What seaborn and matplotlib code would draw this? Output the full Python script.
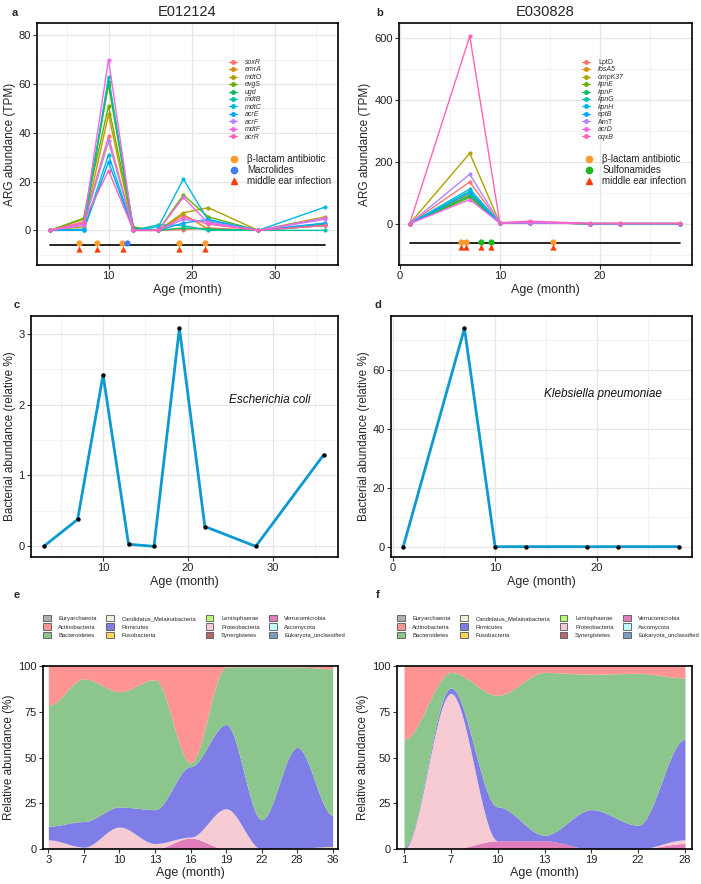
import numpy as np
import pandas as pd
import seaborn as sns
from matplotlib import pyplot as plt
from matplotlib.lines import Line2D
from matplotlib.patches import Patch

sns.set_theme(style="whitegrid")
plt.rcParams['font.family'] = ['Liberation Sans', 'DejaVu Sans']

# ---- panel a : ARG abundance, E012124 ----
ages_a = [3, 7, 10, 13, 16, 19, 22, 28, 36]
genes_a = ["soxR", "emrA", "mdtO", "evgS", "ugd", "mdtB", "mdtC", "acrE", "acrF", "mdtF", "acrR"]
soxR = [0, 3.0, 38.5, 0, 0, 0.3, 1.0, 0, 2.0]
emrA = [0, 1.5, 47.5, 0, 0, 6.5, 0.5, 0, 2.0]
mdtO = [0, 4.5, 59.5, 0.5, 0, 7.2, 9.3, 0, 5.5]
evgS = [0, 5.0, 51.0, 1.3, 0, 14.5, 5.5, 0, 2.0]
ugd = [0, 0.5, 61.0, 1.0, 0, 1.0, 0.5, 0, 2.5]
mdtB = [0, 0.3, 63.0, 0, 2.3, 2.0, 0, 0, 0]
mdtC = [0, 0, 31.0, 0, 1.5, 21.0, 4.0, 0, 9.5]
acrE = [0, 0, 28.0, 0, 0, 3.0, 4.5, 0, 3.0]
acrF = [0, 2.0, 36.5, 0, 0, 4.5, 3.5, 0, 4.5]
mdtF = [0, 2.5, 70.0, 0, 0, 13.5, 3.0, 0, 5.0]
acrR = [0, 3.5, 24.5, 0, 0, 5.5, 2.5, 0, 2.0]
series_a = [soxR, emrA, mdtO, evgS, ugd, mdtB, mdtC, acrE, acrF, mdtF, acrR]

beta_lactam_a = [6.4, 8.6, 11.6, 18.5, 21.6]
macrolide_a = [12.2]
ear_infection_a = [6.4, 8.6, 11.7, 18.5, 21.6]

# ---- panel b : ARG abundance, E030828 ----
ages_b = [1, 7, 10, 13, 19, 22, 28]
genes_b = ["LptD", "fosA5", "ompK37", "kpnE", "kpnF", "kpnG", "kpnH", "eptB", "ArnT", "acrD", "oqxB"]
LptD = [0, 135, 2, 3, 0, 0, 0]
fosA5 = [0, 95, 2, 3, 0, 0, 0]
ompK37 = [0, 228, 2, 3, 0, 0, 0]
kpnE = [0, 85, 2, 3, 0, 0, 0]
kpnF = [0, 90, 2, 3, 0, 0, 0]
kpnG = [0, 105, 2, 3, 0, 0, 0]
kpnH = [0, 112, 2, 3, 0, 0, 0]
eptB = [0, 100, 2, 3, 0, 0, 0]
ArnT = [0, 160, 2, 3, 0, 0, 0]
acrD = [0, 78, 2, 3, 0, 0, 0]
oqxB = [0, 607, 3, 8, 1, 1, 1]
series_b = [LptD, fosA5, ompK37, kpnE, kpnF, kpnG, kpnH, eptB, ArnT, acrD, oqxB]

beta_lactam_b = [6.1, 6.6, 15.3]
sulfonamide_b = [8.1, 9.1]
ear_infection_b = [6.1, 6.6, 8.1, 9.1, 15.3]

# ---- panels c, d : bacterial abundance ----
ecoli = [0, 0.38, 2.42, 0.03, 0, 3.08, 0.28, 0, 1.29]
kpneu = [0, 74, 0, 0, 0, 0, 0]

# ---- panels e, f : phylum composition (%) ----
phyla = ["Euryarchaeota", "Actinobacteria", "Bacteroidetes", "Candidatus_Melainabacteria",
         "Firmicutes", "Fusobacteria", "Lentisphaerae", "Proteobacteria", "Synergistetes",
         "Verrucomicrobia", "Ascomycota", "Eukaryota_unclassified"]
phyla_colors = ["#B3ADA8", "#FF9494", "#8DC68D", "#F3EFDC", "#7E7EE6", "#FFD45E",
                "#B6FF6E", "#F7CBD3", "#B56A6A", "#E07DBA", "#C0FFFF", "#7C9DC2"]

e_actino = [21.5, 7, 14, 7.5, 53, 0.5, 0.5, 0.5, 1.5]
e_bacter = [66, 78, 63, 71, 2, 31.5, 83.5, 44, 80]
e_firmic = [7.5, 14, 11, 18.5, 38.5, 46, 16, 55, 17.2]
e_fuso = [0, 0, 0, 0, 0, 0, 0, 0.5, 0.3]
e_proteo = [5, 1, 12, 3, 0.5, 22, 0, 0, 1]
e_verru = [0, 0, 0, 0, 6, 0, 0, 0, 0]

f_actino = [40, 3.5, 16, 3.5, 4.5, 4, 6.5]
f_bacter = [59, 8.5, 61, 89, 74, 83, 33.5]
f_firmic = [1, 3, 18.5, 3, 21.5, 13, 55]
f_proteo = [0, 85, 0, 0, 0, 0, 2]
f_verru = [0, 0, 4.5, 4.5, 0, 0, 3]

hue11 = ["#F8766D", "#DB8E00", "#AEA200", "#64B200", "#00BD5C", "#00C1A7",
         "#00BADE", "#00A6FF", "#B385FF", "#EF67EB", "#FF63B6"]
c_orange, c_blue, c_green, c_red = "#FF9A2E", "#3C7DF2", "#1DB81D", "#FF3A0A"
line_blue = "#0C9AD0"

W, H = 701, 884
fig = plt.figure(figsize=(W / 100, H / 100), dpi=100)


def box(l, r, t, b):
    return [l / W, 1 - b / H, (r - l) / W, (b - t) / H]


def style(ax, xminor=None, yminor=None):
    for s in ax.spines.values():
        s.set_color("black")
        s.set_linewidth(1.2)
    ax.tick_params(direction="out", length=3, width=0.8, color="#333333",
                   labelsize=8, labelcolor="#222222", pad=1.5, bottom=True, left=True)
    ax.grid(True, which="major", color="#E6E6E6", linewidth=0.9)
    if xminor is not None:
        ax.set_xticks(xminor, minor=True)
    if yminor is not None:
        ax.set_yticks(yminor, minor=True)
    ax.grid(True, which="minor", color="#F0F0F0", linewidth=0.6)
    ax.tick_params(which="minor", length=0)
    ax.set_axisbelow(True)


def arg_panel(ax, ages, genes, series, events, line_y, leg):
    df = pd.DataFrame({"age": np.tile(ages, len(genes)),
                       "tpm": np.concatenate(series),
                       "gene": np.repeat(genes, len(ages))})
    sns.lineplot(data=df, x="age", y="tpm", hue="gene", hue_order=genes,
                 palette=hue11, linewidth=1.0, marker="o", markersize=3,
                 markeredgewidth=0, legend=False, ax=ax)
    ax.plot([min(ages), max(ages)], [line_y] * 2, color="black", lw=1.2, zorder=3)
    for xs, col, mk, yy in events:
        ax.scatter(xs, [yy] * len(xs), color=col, marker=mk, s=20, zorder=4, linewidths=0)
    ax.set_xlabel("Age (month)", fontsize=9, labelpad=2)
    ax.set_ylabel("ARG abundance (TPM)", fontsize=8.5, labelpad=2)
    gh = [Line2D([], [], color=c, marker="o", markersize=2.5, lw=0.9) for c in hue11]
    leg1 = ax.legend(gh, genes, loc="upper left", frameon=False, fontsize=5,
                     handlelength=1.1, handletextpad=1.2, labelspacing=0.07,
                     borderpad=0, borderaxespad=0,
                     bbox_to_anchor=leg[0], bbox_transform=fig.transFigure)
    for t, g in zip(leg1.get_texts(), genes):
        t.set_fontstyle("normal" if g in ("LptD", "ArnT") else "italic")
        t.set_color("#333333")
    ax.add_artist(leg1)
    leg2 = ax.legend(leg[1], leg[2], loc="upper left", frameon=False,
                     fontsize=7, handlelength=1.0, handletextpad=0.9, labelspacing=0.12,
                     borderpad=0, borderaxespad=0,
                     bbox_to_anchor=leg[3], bbox_transform=fig.transFigure)
    for t in leg2.get_texts():
        t.set_color("#222222")


def dot(col, mk="o"):
    return Line2D([], [], color=col, marker=mk, markersize=4.5, lw=0)


# panel a
ax = fig.add_axes(box(37, 338, 23, 265))
style(ax, xminor=[5, 15, 25, 35], yminor=[-10, 10, 30, 50, 70])
arg_panel(ax, ages_a, genes_a, series_a,
          [(beta_lactam_a, c_orange, "o", -5.0), (macrolide_a, c_blue, "o", -5.0),
           (ear_infection_a, c_red, "^", -7.8)],
          -6.2,
          ((229 / W, 1 - 59 / H), [dot(c_orange), dot(c_blue), dot(c_red, "^")],
           ["β-lactam antibiotic", "Macrolides", "middle ear infection"],
           (229 / W, 1 - 154 / H)))
ax.set_xlim(1.4, 37.6)
ax.set_ylim(-14.2, 85)
ax.set_xticks([10, 20, 30])
ax.set_yticks([0, 20, 40, 60, 80])
ax.set_title("E012124", fontsize=10.5, pad=5)

# panel b
ax = fig.add_axes(box(399, 692, 23, 265))
style(ax, xminor=[5, 15, 25], yminor=[-100, 100, 300, 500])
arg_panel(ax, ages_b, genes_b, series_b,
          [(beta_lactam_b, c_orange, "o", -59), (sulfonamide_b, c_green, "o", -59),
           (ear_infection_b, c_red, "^", -77)],
          -64,
          ((582 / W, 1 - 59 / H), [dot(c_orange), dot(c_green), dot(c_red, "^")],
           ["β-lactam antibiotic", "Sulfonamides", "middle ear infection"],
           (584 / W, 1 - 154 / H)))
ax.set_xlim(-0.07, 29.2)
ax.set_ylim(-134, 650)
ax.set_xticks([0, 10, 20])
ax.set_yticks([0, 200, 400, 600])
ax.set_title("E030828", fontsize=10.5, pad=5)


def bact_panel(ax, ages, vals, name, tx, ty):
    df = pd.DataFrame({"age": ages, "abund": vals})
    sns.lineplot(data=df, x="age", y="abund", color=line_blue, linewidth=2.0, ax=ax)
    sns.scatterplot(data=df, x="age", y="abund", color="black", s=10, linewidth=0,
                    zorder=5, ax=ax)
    ax.text(tx, ty, name, fontstyle="italic", fontsize=8.5, ha="center", va="center",
            color="#111111")
    ax.set_xlabel("Age (month)", fontsize=9, labelpad=2)
    ax.set_ylabel("Bacterial abundance (relative %)", fontsize=8.5, labelpad=2)


# panel c
ax = fig.add_axes(box(31, 338, 316, 557))
style(ax, xminor=[5, 15, 25, 35], yminor=[0.5, 1.5, 2.5])
bact_panel(ax, ages_a, ecoli, "Escherichia coli", 29.6, 2.07)
ax.set_xlim(1.5, 37.7)
ax.set_ylim(-0.15, 3.25)
ax.set_xticks([10, 20, 30])
ax.set_yticks([0, 1, 2, 3])

# panel d
ax = fig.add_axes(box(391, 692, 316, 557))
style(ax, xminor=[5, 15, 25], yminor=[10, 30, 50, 70])
bact_panel(ax, ages_b, kpneu, "Klebsiella pneumoniae", 20.6, 51.6)
ax.set_xlim(-0.2, 29.3)
ax.set_ylim(-3.5, 78.2)
ax.set_xticks([0, 10, 20])
ax.set_yticks([0, 20, 40, 60])


def stream_panel(ax, ages, layers, leg_x):
    # layers in phyla order (top of stack first); smooth rendering between samples
    n = len(ages)
    t = np.linspace(0, n - 1, 60 * (n - 1) + 1)
    i = np.minimum(np.floor(t).astype(int), n - 2)
    s = t - i
    w = s * s * (3 - 2 * s)
    ys = []
    for name in phyla[::-1]:
        v = np.asarray(layers.get(name, [0] * n), dtype=float)
        ys.append(v[i] * (1 - w) + v[i + 1] * w)
    ax.stackplot(t, *ys, colors=phyla_colors[::-1], linewidth=0)
    ax.set_xlim(-0.15, n - 1 + 0.15)
    ax.set_ylim(0, 100)
    ax.set_xticks(range(n))
    ax.set_xticklabels([str(a) for a in ages])
    ax.set_yticks([0, 25, 50, 75, 100])
    ax.grid(False)
    for sp in ax.spines.values():
        sp.set_color("black")
        sp.set_linewidth(1.2)
    ax.tick_params(direction="out", length=3, width=0.8, color="#333333",
                   labelsize=8, labelcolor="#222222", pad=1.5, bottom=True, left=True)
    ax.set_xlabel("Age (month)", fontsize=9, labelpad=1)
    ax.set_ylabel("Relative abundance (%)", fontsize=8.5, labelpad=2)
    handles = [Patch(facecolor=c, edgecolor="#555555", linewidth=0.6) for c in phyla_colors]
    fig.legend(handles, phyla, loc="upper left", ncol=4, frameon=False, fontsize=4.2,
               handlelength=1.35, handleheight=1.3, handletextpad=1.3, columnspacing=1.6,
               labelspacing=0.35, borderpad=0, borderaxespad=0,
               bbox_to_anchor=(leg_x / W, 1 - 615 / H))


ax = fig.add_axes(box(43, 338, 666, 849))
stream_panel(ax, ages_a, {"Actinobacteria": e_actino, "Bacteroidetes": e_bacter,
                          "Firmicutes": e_firmic, "Fusobacteria": e_fuso,
                          "Proteobacteria": e_proteo, "Verrucomicrobia": e_verru}, 43)

ax = fig.add_axes(box(397, 692, 666, 849))
stream_panel(ax, ages_b, {"Actinobacteria": f_actino, "Bacteroidetes": f_bacter,
                          "Firmicutes": f_firmic, "Proteobacteria": f_proteo,
                          "Verrucomicrobia": f_verru}, 397)

for lab, x, y in [("a", 15, 13), ("b", 380, 13), ("c", 17, 305), ("d", 378, 305),
                  ("e", 17, 595), ("f", 378, 595)]:
    fig.text(x / W, 1 - y / H, lab, fontsize=8, fontweight="bold", ha="center", va="center")

fig.savefig("out.png", dpi=100)
